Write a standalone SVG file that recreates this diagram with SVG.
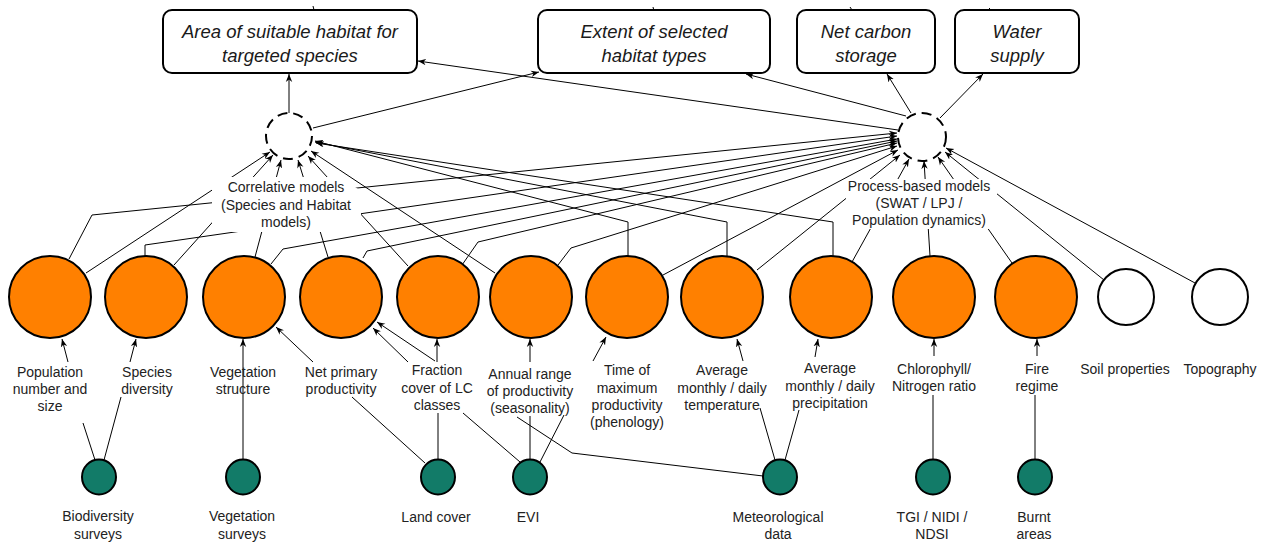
<svg xmlns="http://www.w3.org/2000/svg" width="1262" height="543" viewBox="0 0 1262 543">
<style>
.c{fill:none;stroke:#000;stroke-width:1}
.a{fill:none;stroke:#000;stroke-width:1;marker-end:url(#ah)}
.box{fill:#fff;stroke:#000;stroke-width:2}
.bt{font-family:"Liberation Sans",Arial,sans-serif;font-size:18.5px;font-style:italic;fill:#1a1a1a;text-anchor:middle}
.lt{font-family:"Liberation Sans",Arial,sans-serif;font-size:14px;fill:#222;text-anchor:middle}
.or{fill:#FF8000;stroke:#000;stroke-width:2}
.wh{fill:#fff;stroke:#000;stroke-width:2}
.gr{fill:#127B68;stroke:#000;stroke-width:2}
.dc{fill:#fff;stroke:#000;stroke-width:2;stroke-dasharray:10 6}
.bg{fill:#fff;stroke:none}
</style>
<defs>
<marker id="ah" viewBox="0 0 10 10" refX="10" refY="5" markerWidth="8" markerHeight="8" markerUnits="userSpaceOnUse" orient="auto"><path d="M0,1 L10,5 L0,9 L3,5 z" fill="#000"/></marker>
</defs>
<rect width="1262" height="543" fill="#fff"/>
<g id="connectors">
<path class="c" d="M313,6 L314,10 M653,7 L654,11 M850,7 L852,10 M989,8 L992,11"/>
<path class="a" d="M289,113 L289,74"/>
<path class="a" d="M313,128 L539,72"/>
<path class="a" d="M898,130 L418,61"/>
<path class="a" d="M906,116 L746,74"/>
<path class="a" d="M911,113 L887,74"/>
<path class="a" d="M940,118 L983,74"/>
<path class="a" d="M86,273 L270,152"/>
<path class="a" d="M174,265 L273,155"/>
<path class="a" d="M255,257 L281,160"/>
<path class="a" d="M328,257 L298,160"/>
<path class="a" d="M408,266 L308,156"/>
<path class="a" d="M495,273 L311,151"/>
<path class="a" d="M628,256 L628,222 L315,141"/>
<path class="a" d="M727,256 L727,222 L315,142"/>
<path class="a" d="M833,256 L833,222 L316,143"/>
<path class="a" d="M69,259 L92,215 L897,133"/>
<path class="a" d="M145,256 L145,245 L897,136"/>
<path class="a" d="M271,264 L283,249 L897,139"/>
<path class="a" d="M363,258 L367,251 L897,141"/>
<path class="a" d="M462,265 L478,242 L897,143"/>
<path class="a" d="M558,265 L571,248 L897,146"/>
<path class="a" d="M663,275 L898,150"/>
<path class="a" d="M757,270 L900,155"/>
<path class="a" d="M852,262 L909,159"/>
<path class="a" d="M930,256 L924,161"/>
<path class="a" d="M1012,263 L938,157"/>
<path class="a" d="M1104,280 L945,152"/>
<path class="a" d="M1195,283 L946,148"/>
<path class="a" d="M68,362 L62,339"/>
<path class="a" d="M130,362 L136,339"/>
<path class="a" d="M243,460 L243,339"/>
<path class="a" d="M313,362 L276,327"/>
<path class="a" d="M408,362 L373,328"/>
<path class="a" d="M435,361 L377,322"/>
<path class="a" d="M437,362 L437,339"/>
<path class="a" d="M530,362 L530,339"/>
<path class="a" d="M593,361 L606,337"/>
<path class="a" d="M743,361 L737,339"/>
<path class="a" d="M815,357 L818,339"/>
<path class="a" d="M934,356 L934,339"/>
<path class="a" d="M1037,356 L1037,339"/>
<path class="c" d="M95,460 L83,423"/>
<path class="c" d="M104,460 L121,397"/>
<path class="c" d="M438,460 L438,413"/>
<path class="c" d="M425,463 L352,397"/>
<path class="c" d="M520,462 L463,413"/>
<path class="c" d="M530,460 L530,416"/>
<path class="c" d="M540,462 L564,415"/>
<path class="c" d="M763,476 L572,453 L517,417"/>
<path class="c" d="M775,460 L760,408"/>
<path class="c" d="M785,460 L799,410"/>
<path class="c" d="M933,460 L933,395"/>
<path class="c" d="M1035,460 L1035,395"/>
</g>
<g id="box-area">
<rect class="box" x="163" y="10" width="254" height="63" rx="9"/>
<text class="bt" x="290" y="37.5">Area of suitable habitat for</text>
<text class="bt" x="290" y="61.5">targeted species</text>
</g>
<g id="box-extent">
<rect class="box" x="538" y="10" width="232" height="63" rx="9"/>
<text class="bt" x="654" y="37.5">Extent of selected</text>
<text class="bt" x="654" y="61.5">habitat types</text>
</g>
<g id="box-carbon">
<rect class="box" x="797" y="10" width="138" height="63" rx="9"/>
<text class="bt" x="866" y="37.5">Net carbon</text>
<text class="bt" x="866" y="61.5">storage</text>
</g>
<g id="box-water">
<rect class="box" x="955" y="10" width="124" height="63" rx="9"/>
<text class="bt" x="1017" y="37.5">Water</text>
<text class="bt" x="1017" y="61.5">supply</text>
</g>
<g id="hub-correlative">
<circle class="dc" cx="289" cy="136" r="23"/>
</g>
<g id="hub-process">
<circle class="dc" cx="922" cy="137" r="24"/>
</g>
<g id="label-correlative">
<polygon class="bg" points="212,177 340,177 361,191 361,232 212,232"/>
<text class="lt" x="286" y="192">Correlative models</text>
<text class="lt" x="286" y="210">(Species and Habitat</text>
<text class="lt" x="286" y="227">models)</text>
</g>
<g id="label-process">
<rect class="bg" x="846" y="179" width="151" height="50"/>
<text class="lt" x="919" y="191">Process-based models</text>
<text class="lt" x="919" y="208">(SWAT / LPJ /</text>
<text class="lt" x="919" y="225">Population dynamics)</text>
</g>
<g id="n-population">
<circle class="or" cx="50" cy="297" r="41"/>
<text class="lt" x="50" y="377">Population</text>
<text class="lt" x="50" y="394">number and</text>
<text class="lt" x="50" y="411">size</text>
</g>
<g id="n-species">
<circle class="or" cx="146" cy="297" r="41"/>
<text class="lt" x="147" y="377">Species</text>
<text class="lt" x="147" y="394">diversity</text>
</g>
<g id="n-vegstruct">
<circle class="or" cx="244" cy="297" r="41"/>
<text class="lt" x="243" y="377">Vegetation</text>
<text class="lt" x="243" y="394">structure</text>
</g>
<g id="n-npp">
<circle class="or" cx="341" cy="297" r="41"/>
<text class="lt" x="341" y="377">Net primary</text>
<text class="lt" x="341" y="394">productivity</text>
</g>
<g id="n-fraction">
<circle class="or" cx="438" cy="297" r="41"/>
<text class="lt" x="437" y="375">Fraction</text>
<text class="lt" x="437" y="393">cover of LC</text>
<text class="lt" x="437" y="410">classes</text>
</g>
<g id="n-annual">
<circle class="or" cx="531" cy="297" r="41"/>
<text class="lt" x="530" y="379">Annual range</text>
<text class="lt" x="530" y="396">of productivity</text>
<text class="lt" x="530" y="413">(seasonality)</text>
</g>
<g id="n-time">
<circle class="or" cx="627" cy="297" r="41"/>
<text class="lt" x="627" y="375">Time of</text>
<text class="lt" x="627" y="393">maximum</text>
<text class="lt" x="627" y="410">productivity</text>
<text class="lt" x="627" y="427">(phenology)</text>
</g>
<g id="n-temp">
<circle class="or" cx="722" cy="297" r="41"/>
<text class="lt" x="722" y="375">Average</text>
<text class="lt" x="722" y="393">monthly / daily</text>
<text class="lt" x="722" y="410">temperature</text>
</g>
<g id="n-precip">
<circle class="or" cx="831" cy="297" r="41"/>
<text class="lt" x="830" y="373">Average</text>
<text class="lt" x="830" y="391">monthly / daily</text>
<text class="lt" x="830" y="408">precipitation</text>
</g>
<g id="n-chloro">
<circle class="or" cx="934" cy="297" r="41"/>
<text class="lt" x="934" y="374">Chlorophyll/</text>
<text class="lt" x="934" y="391">Nitrogen ratio</text>
</g>
<g id="n-fire">
<circle class="or" cx="1036" cy="297" r="41"/>
<text class="lt" x="1037" y="374">Fire</text>
<text class="lt" x="1037" y="391">regime</text>
</g>
<g id="n-soil">
<circle class="wh" cx="1126" cy="297" r="28"/>
<text class="lt" x="1125" y="374">Soil properties</text>
</g>
<g id="n-topo">
<circle class="wh" cx="1220" cy="297" r="28"/>
<text class="lt" x="1220" y="374">Topography</text>
</g>
<g id="d-biodiv">
<ellipse class="gr" cx="99" cy="477" rx="17" ry="17.5"/>
<text class="lt" x="98" y="521">Biodiversity</text>
<text class="lt" x="98" y="539">surveys</text>
</g>
<g id="d-vegsurv">
<ellipse class="gr" cx="243" cy="477" rx="17" ry="17.5"/>
<text class="lt" x="242" y="521">Vegetation</text>
<text class="lt" x="242" y="539">surveys</text>
</g>
<g id="d-landcover">
<ellipse class="gr" cx="438" cy="477" rx="17" ry="17.5"/>
<text class="lt" x="436" y="522">Land cover</text>
</g>
<g id="d-evi">
<ellipse class="gr" cx="530" cy="477" rx="17" ry="17.5"/>
<text class="lt" x="528" y="522">EVI</text>
</g>
<g id="d-meteo">
<ellipse class="gr" cx="780" cy="477" rx="17" ry="17.5"/>
<text class="lt" x="778" y="522">Meteorological</text>
<text class="lt" x="778" y="539">data</text>
</g>
<g id="d-tgi">
<ellipse class="gr" cx="933" cy="477" rx="17" ry="17.5"/>
<text class="lt" x="932" y="522">TGI / NIDI /</text>
<text class="lt" x="932" y="539">NDSI</text>
</g>
<g id="d-burnt">
<ellipse class="gr" cx="1035" cy="477" rx="17" ry="17.5"/>
<text class="lt" x="1034" y="522">Burnt</text>
<text class="lt" x="1034" y="539">areas</text>
</g>
</svg>
